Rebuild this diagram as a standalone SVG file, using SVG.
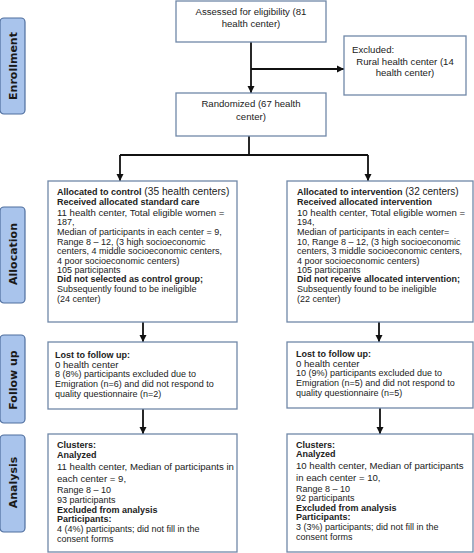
<svg xmlns="http://www.w3.org/2000/svg" width="474" height="553" viewBox="0 0 474 553">
<style>
.box{fill:#ffffff;stroke:#7088a8;stroke-width:1.3}
.lab{fill:#a9c4ec;stroke:#4f6e9e;stroke-width:1.2}
.lt{font-family:"DejaVu Sans",Verdana,sans-serif;font-weight:bold;font-size:11px;fill:#1a1a1a}
.t{font-family:"Liberation Sans",Arial,sans-serif;font-size:9px;fill:#222}
.tl{font-family:"Liberation Sans",Arial,sans-serif;font-size:9.6px;fill:#222}
.b{font-weight:bold}
.c{stroke:#111;stroke-width:1.8;fill:none}
</style>
<defs>
<marker id="ah" markerWidth="8" markerHeight="8" refX="7" refY="4" orient="auto" markerUnits="userSpaceOnUse">
<path d="M0,0.5 L7,4 L0,7.5 z" fill="#111"/>
</marker>
</defs>
<rect width="474" height="553" fill="#fff"/>
<g id="label-enrollment"><rect class="lab" x="0" y="18" width="25" height="96" rx="4"/><text class="lt" transform="translate(16.5,66) rotate(-90)" text-anchor="middle">Enrollment</text></g>
<g id="label-allocation"><rect class="lab" x="0" y="207" width="25" height="96" rx="4"/><text class="lt" transform="translate(16.5,254) rotate(-90)" text-anchor="middle">Allocation</text></g>
<g id="label-followup"><rect class="lab" x="0" y="335" width="25" height="88" rx="4"/><text class="lt" transform="translate(16.5,380) rotate(-90)" text-anchor="middle">Follow up</text></g>
<g id="label-analysis"><rect class="lab" x="0" y="435" width="25" height="97" rx="4"/><text class="lt" transform="translate(16.5,482.5) rotate(-90)" text-anchor="middle">Analysis</text></g>

<g id="connectors">
<line class="c" x1="251" y1="42" x2="251" y2="93" marker-end="url(#ah)"/>
<line class="c" x1="251" y1="69" x2="344" y2="69" marker-end="url(#ah)"/>
<polyline class="c" points="249,136 249,155"/>
<polyline class="c" points="120,155 368,155"/>
<line class="c" x1="120" y1="155" x2="120" y2="181" marker-end="url(#ah)"/>
<line class="c" x1="368" y1="155" x2="368" y2="181" marker-end="url(#ah)"/>
<line class="c" x1="143" y1="322" x2="143" y2="342" marker-end="url(#ah)"/>
<line class="c" x1="379" y1="322" x2="379" y2="342" marker-end="url(#ah)"/>
<line class="c" x1="143" y1="409" x2="143" y2="434" marker-end="url(#ah)"/>
<line class="c" x1="380" y1="408" x2="380" y2="434" marker-end="url(#ah)"/>
</g>

<g id="assessed"><rect class="box" x="176" y="1" width="150" height="41"/>
<text class="tl" x="251" y="15" text-anchor="middle">Assessed for eligibility (81</text>
<text class="tl" x="251" y="27" text-anchor="middle">health center)</text></g>

<g id="excluded"><rect class="box" x="344" y="36" width="122" height="59"/>
<text class="tl" x="352" y="53">Excluded:</text>
<text class="tl" x="405" y="65" text-anchor="middle">Rural health center (14</text>
<text class="tl" x="405" y="76" text-anchor="middle">health center)</text></g>

<g id="randomized"><rect class="box" x="176" y="93" width="150" height="43"/>
<text class="tl" x="251" y="107" text-anchor="middle">Randomized (67 health</text>
<text class="tl" x="251" y="120" text-anchor="middle">center)</text></g>

<g id="alloc-control"><rect class="box" x="48" y="181" width="189" height="141"/>
<text class="t" x="57" y="195"><tspan class="b">Allocated to control</tspan><tspan font-size="10.2"> (35 health centers)</tspan></text>
<text class="t b" x="57" y="205">Received allocated standard care</text>
<text class="tl" x="57" y="216">11 health center, Total eligible women =</text>
<text class="t" x="57" y="225">187,</text>
<text class="t" font-size="9.4" x="57" y="235">Median of participants in each center = 9,</text>
<text class="t" x="57" y="245">Range 8 – 12, (3 high socioeconomic</text>
<text class="t" x="57" y="254">centers, 4 middle socioeconomic centers,</text>
<text class="t" x="57" y="264">4 poor socioeconomic centers)</text>
<text class="t" x="57" y="273">105 participants</text>
<text class="t b" x="57" y="282">Did not selected as control group;</text>
<text class="t" x="57" y="292">Subsequently found to be ineligible</text>
<text class="t" x="57" y="302">(24 center)</text></g>

<g id="alloc-intervention"><rect class="box" x="287" y="181" width="186" height="141"/>
<text class="t" x="297" y="195"><tspan class="b">Allocated to intervention</tspan><tspan font-size="10"> (32 centers)</tspan></text>
<text class="t b" x="297" y="205">Received allocated intervention</text>
<text class="tl" x="297" y="216">10 health center, Total eligible women =</text>
<text class="t" x="297" y="225">194,</text>
<text class="t" font-size="9.4" x="297" y="235">Median of participants in each center=</text>
<text class="t" x="297" y="245">10, Range 8 – 12, (3 high socioeconomic</text>
<text class="t" x="297" y="254">centers, 3 middle socioeconomic centers,</text>
<text class="t" x="297" y="264">4 poor socioeconomic centers)</text>
<text class="t" x="297" y="273">105 participants</text>
<text class="t b" x="297" y="282">Did not receive allocated intervention;</text>
<text class="t" x="297" y="292">Subsequently found to be ineligible</text>
<text class="t" x="297" y="302">(22 center)</text></g>

<g id="follow-control"><rect class="box" x="48" y="342" width="189" height="67"/>
<text class="t b" x="55" y="358">Lost to follow up:</text>
<text class="tl" x="55" y="367.5">0 health center</text>
<text class="t" x="55" y="377">8 (8%) participants excluded due to</text>
<text class="t" x="55" y="387">Emigration (n=6) and did not respond to</text>
<text class="t" x="55" y="397">quality questionnaire (n=2)</text></g>

<g id="follow-intervention"><rect class="box" x="287" y="342" width="186" height="66"/>
<text class="t b" x="296" y="357">Lost to follow up:</text>
<text class="tl" x="296" y="366.5">0 health center</text>
<text class="t" x="296" y="376">10 (9%) participants excluded due to</text>
<text class="t" x="296" y="386">Emigration (n=5) and did not respond to</text>
<text class="t" x="296" y="396">quality questionnaire (n=5)</text></g>

<g id="analysis-control"><rect class="box" x="48" y="434" width="189" height="118"/>
<text class="t b" font-size="9.4" x="57" y="448">Clusters:</text>
<text class="t b" font-size="9.4" x="57" y="457.5">Analyzed</text>
<text class="tl" font-size="9.4" x="57" y="469.5">11 health center, Median of participants in</text>
<text class="tl" font-size="10" x="57" y="481.5">each center = 9,</text>
<text class="t" x="57" y="493">Range 8 – 10</text>
<text class="t" x="57" y="503">93 participants</text>
<text class="t b" x="57" y="513">Excluded from analysis</text>
<text class="t b" x="57" y="522">Participants:</text>
<text class="t" x="57" y="532">4 (4%) participants; did not fill in the</text>
<text class="t" x="57" y="542">consent forms</text></g>

<g id="analysis-intervention"><rect class="box" x="287" y="434" width="186" height="118"/>
<text class="t b" font-size="9.4" x="296" y="448">Clusters:</text>
<text class="t b" font-size="9.4" x="296" y="457">Analyzed</text>
<text class="tl" font-size="9.4" x="296" y="468.5">10 health center, Median of participants</text>
<text class="tl" font-size="10" x="296" y="480.5">in each center = 10,</text>
<text class="t" x="296" y="492">Range 8 – 10</text>
<text class="t" x="296" y="501">92 participants</text>
<text class="t b" x="296" y="511">Excluded from analysis</text>
<text class="t b" x="296" y="520">Participants:</text>
<text class="t" x="296" y="530">3 (3%) participants; did not fill in the</text>
<text class="t" x="296" y="540">consent forms</text></g>
</svg>
